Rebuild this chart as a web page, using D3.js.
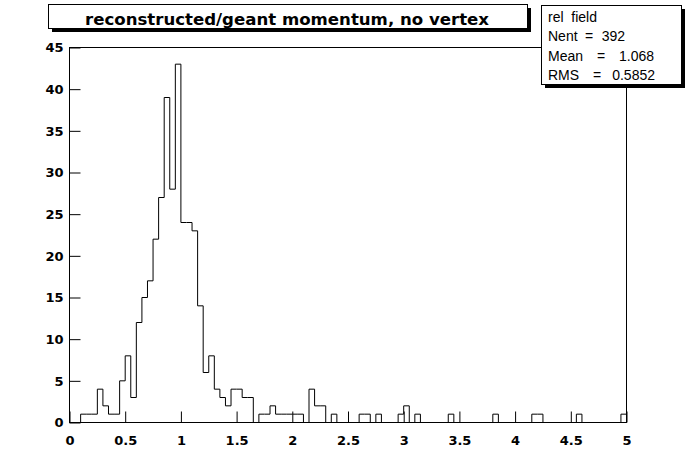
<!DOCTYPE html>
<html><head><meta charset="utf-8">
<script src="https://cdn.jsdelivr.net/npm/d3@7"></script>
<style>body{margin:0;background:#fff}svg{display:block}text{white-space:pre}</style>
</head><body>
<svg id="c" width="696" height="472"></svg>
<script>
const titleText = "reconstructed/geant momentum, no vertex";
const statsName = "rel  field";
const statsLabels = ["Nent", "Mean", "RMS"];
const statsValues = ["392", "1.068", "0.5852"];
const xDomain = [0, 5];
const yDomain = [0, 45];
const nBins = 100;
const counts = [
 0,0,1,1,1,4,2,1,1,5,
 8,3,12,15,17,22,27,39,28,43,
 24,24,23,14,6,8,4,3,2,4,
 4,3,3,0,1,1,2,1,1,1,
 1,1,0,4,2,2,0,1,0,0,
 0,0,1,1,0,1,0,0,0,1,
 2,0,1,0,0,0,0,0,1,0,
 0,0,0,0,0,0,1,0,0,0,
 0,0,0,1,1,0,0,0,0,0,
 0,1,0,0,0,0,0,0,0,1];
const xTicks = [0,0.5,1,1.5,2,2.5,3,3.5,4,4.5,5];
const yTicks = [0,5,10,15,20,25,30,35,40,45];

const svg = d3.select("#c");
const x = d3.scaleLinear().domain(xDomain).range([69.5, 626.5]);
const y = d3.scaleLinear().domain(yDomain).range([422.5, 47.5]);
const bw = (xDomain[1]-xDomain[0])/nBins;

// frame
svg.append("rect").attr("x",69.5).attr("y",47.5).attr("width",557).attr("height",375)
  .attr("fill","none").attr("stroke","#000").attr("stroke-width",1);

// histogram step path
let d = `M${x(xDomain[0])},${y(0)}`;
counts.forEach((v,i)=>{
  const lo = xDomain[0]+i*bw, hi = lo+bw;
  d += `L${x(lo)},${y(v)}L${x(hi)},${y(v)}`;
});
d += `L${x(xDomain[1])},${y(0)}`;
svg.append("path").attr("d",d).attr("fill","none").attr("stroke","#000").attr("stroke-width",1);

const lblFont = "'DejaVu Sans', sans-serif";
// y axis
const gy = svg.append("g").attr("transform","translate(69.5,0)");
gy.call(d3.axisLeft(y).tickValues(d3.range(0,46,1)).tickSize(-6).tickFormat(""));
gy.call(d3.axisLeft(y).tickValues(yTicks).tickSize(-11).tickPadding(6).tickFormat(d3.format("d")));
gy.selectAll(".domain").remove();
gy.selectAll("text").attr("font-family",lblFont).attr("font-weight","bold").attr("font-size",13).attr("fill","#000");
gy.selectAll("line").attr("stroke","#000");

// x axis
const gx = svg.append("g").attr("transform","translate(0,422.5)");
gx.call(d3.axisBottom(x).tickValues(d3.range(0,51).map(k=>k/10)).tickSize(-6).tickFormat(""));
gx.call(d3.axisBottom(x).tickValues(xTicks).tickSize(-11).tickPadding(13).tickFormat(d3.format("")));
gx.selectAll(".domain").remove();
gx.selectAll("text").attr("font-family",lblFont).attr("font-weight","bold").attr("font-size",13).attr("fill","#000");
gx.selectAll("line").attr("stroke","#000");

// title box
svg.append("rect").attr("x",52).attr("y",28).attr("width",479).attr("height",4).attr("fill","#000");
svg.append("rect").attr("x",527).attr("y",8).attr("width",4).attr("height",24).attr("fill","#000");
svg.append("rect").attr("x",48.5).attr("y",4.5).attr("width",479).attr("height",24)
  .attr("fill","#fff").attr("stroke","#000");
svg.append("text").attr("x",287).attr("y",25).attr("text-anchor","middle")
  .attr("font-family",lblFont).attr("font-weight","bold").attr("font-size",16)
  .attr("textLength",404).attr("lengthAdjust","spacingAndGlyphs").text(titleText);

// stats box
svg.append("rect").attr("x",545).attr("y",84).attr("width",140).attr("height",4).attr("fill","#000");
svg.append("rect").attr("x",681).attr("y",9).attr("width",4).attr("height",79).attr("fill","#000");
svg.append("rect").attr("x",541.5).attr("y",5.5).attr("width",140).attr("height",79)
  .attr("fill","#fff").attr("stroke","#000");
const statFont = "'Liberation Sans', Arial, sans-serif";
const st = svg.append("g").attr("font-family",statFont).attr("font-size",14).attr("fill","#000");
st.append("text").attr("x",548).attr("y",22).text(statsName);
const rowY = [41, 61, 80];
const eqX = [589, 601, 597];
const valX = [625, 654, 655];
statsLabels.forEach((lab,i)=>{
  st.append("text").attr("x",548).attr("y",rowY[i]).text(lab);
  st.append("text").attr("x",eqX[i]).attr("y",rowY[i]).attr("text-anchor","middle").text("=");
  st.append("text").attr("x",valX[i]).attr("y",rowY[i]).attr("text-anchor","end").text(statsValues[i]);
});
</script>
</body></html>
